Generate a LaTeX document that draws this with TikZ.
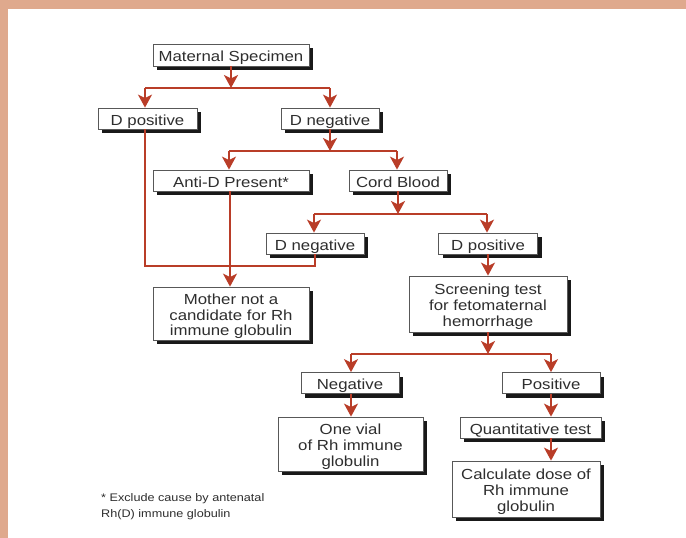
\documentclass[tikz,border=0pt]{standalone}
\usepackage{fontspec}
\setmainfont[FakeStretch=1.15]{Liberation Sans}
\usetikzlibrary{shadows,arrows.meta}
\definecolor{frame}{HTML}{DFA98D}
\definecolor{link}{HTML}{B93D28}
\definecolor{ink}{HTML}{2E2E2E}
\newcommand\lowtext[1]{\raisebox{-3.5pt}[\height][\depth]{\begin{tabular}{@{}c@{}}#1\end{tabular}}}
\tikzset{
  x=1pt,y=-1pt,
  boxed/.style={draw=ink!80,line width=0.8pt,fill=white,text=ink,inner sep=0pt,
    font=\fontsize{14.6}{15.8}\selectfont,
    drop shadow={shadow xshift=4pt,shadow yshift=-4pt,fill=black!90,opacity=1}},
  link line/.style={draw=link,line width=2pt},
  flow/.style={link line,-{Stealth[length=13pt,width=14pt,inset=3.5pt]}},
  note/.style={text=ink,anchor=west,inner sep=0pt,font=\fontsize{11}{12}\selectfont}
}
\begin{document}
\begin{tikzpicture}
\useasboundingbox (0,0) rectangle (686,538);
\fill[white] (0,0) rectangle (686,538);
\fill[frame] (0,0) rectangle (686,9);
\fill[frame] (0,0) rectangle (8,538);

\node[boxed,minimum width=156pt,minimum height=22pt] (ms) at (231,55) {\lowtext{Maternal Specimen}};
\node[boxed,minimum width=99pt,minimum height=21pt] (dp1) at (147.5,118.5) {\lowtext{D positive}};
\node[boxed,minimum width=98pt,minimum height=21pt] (dn1) at (330,118.5) {\lowtext{D negative}};
\node[boxed,minimum width=156pt,minimum height=21pt] (ad) at (231,180.5) {\lowtext{Anti-D Present*}};
\node[boxed,minimum width=98pt,minimum height=21pt] (cb) at (398,180.5) {\lowtext{Cord Blood}};
\node[boxed,minimum width=98pt,minimum height=21pt] (dn2) at (315,243.5) {\lowtext{D negative}};
\node[boxed,minimum width=99pt,minimum height=21pt] (dp2) at (488,243.5) {\lowtext{D positive}};
\node[boxed,minimum width=156pt,minimum height=53pt] (mn) at (231,313.5) {\lowtext{Mother not a\\candidate for Rh\\immune globulin}};
\node[boxed,minimum width=158pt,minimum height=56pt] (sc) at (488,304) {\lowtext{Screening test\\for fetomaternal\\hemorrhage}};
\node[boxed,minimum width=98pt,minimum height=21pt] (ng) at (350,383) {\lowtext{Negative}};
\node[boxed,minimum width=98pt,minimum height=21pt] (ps) at (551,383) {\lowtext{Positive}};
\node[boxed,minimum width=145pt,minimum height=54pt] (ov) at (350.5,444) {\lowtext{One vial\\of Rh immune\\globulin}};
\node[boxed,minimum width=141pt,minimum height=21pt] (qt) at (530.5,427.5) {\lowtext{Quantitative test}};
\node[boxed,minimum width=148pt,minimum height=56pt] (cd) at (526,489) {\lowtext{Calculate dose of\\Rh immune\\globulin}};

\node[note] (fn1) at (101,499) {* Exclude cause by antenatal};
\node[note] (fn2) at (101,515) {Rh(D) immune globulin};

\coordinate (j1) at (231,88);
\coordinate (j1l) at (145,88);
\coordinate (j1r) at (330,88);
\coordinate (j2) at (330,151);
\coordinate (j2l) at (229,151);
\coordinate (j2r) at (397,151);
\coordinate (j3) at (398,214);
\coordinate (j3l) at (314,214);
\coordinate (j3r) at (487,214);
\coordinate (j4) at (488,354);
\coordinate (j4l) at (351,354);
\coordinate (j4r) at (551,354);
\coordinate (j5) at (230,266);
\coordinate (j5l) at (145,266);
\coordinate (j5r) at (315,266);

\draw[flow] (ms.south) -- (j1);
\draw[link line] (j1l) -- (j1r);
\draw[flow] (j1l) -- (j1l |- dp1.north);
\draw[flow] (j1r) -- (j1r |- dn1.north);

\draw[flow] (dn1.south) -- (j2);
\draw[link line] (j2l) -- (j2r);
\draw[flow] (j2l) -- (j2l |- ad.north);
\draw[flow] (j2r) -- (j2r |- cb.north);

\draw[flow] (cb.south) -- (j3);
\draw[link line] (j3l) -- (j3r);
\draw[flow] (j3l) -- (j3l |- dn2.north);
\draw[flow] (j3r) -- (j3r |- dp2.north);

\draw[link line] (j5l |- dp1.south) -- (j5l) -- (j5r) -- (j5r |- dn2.south);
\draw[flow] (j5 |- ad.south) -- (j5 |- mn.north);
\draw[flow] (dp2.south) -- (dp2.south |- sc.north);

\draw[flow] (sc.south) -- (j4);
\draw[link line] (j4l) -- (j4r);
\draw[flow] (j4l) -- (j4l |- ng.north);
\draw[flow] (j4r) -- (j4r |- ps.north);

\draw[flow] (j4l |- ng.south) -- (j4l |- ov.north);
\draw[flow] (j4r |- ps.south) -- (j4r |- qt.north);
\draw[flow] (j4r |- qt.south) -- (j4r |- cd.north);
\end{tikzpicture}
\end{document}
